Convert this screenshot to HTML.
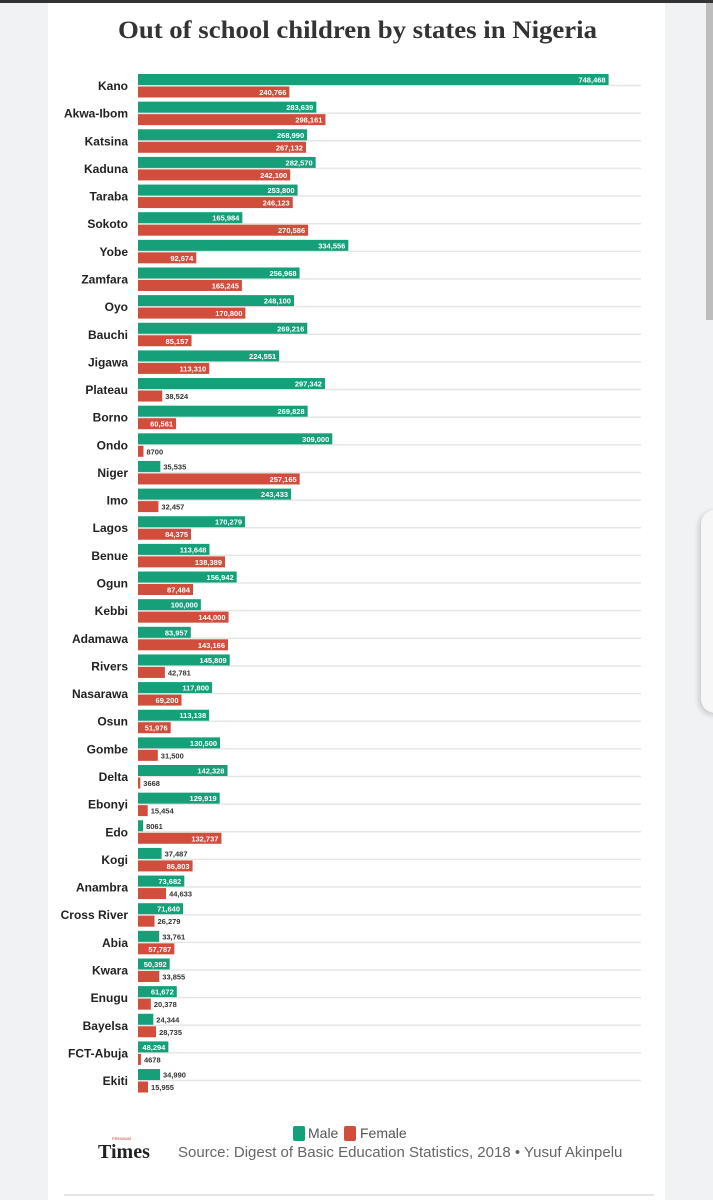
<!DOCTYPE html>
<html><head><meta charset="utf-8">
<style>
html,body{margin:0;padding:0;}
body{width:713px;height:1200px;background:#f1f2f4;position:relative;overflow:hidden;font-family:"Liberation Sans",sans-serif;}
#topbar{position:absolute;left:0;top:0;width:713px;height:3px;background:#333;}
#card{position:absolute;left:48px;top:3px;width:617px;height:1197px;background:#fff;}
#thumb{position:absolute;left:706px;top:3px;width:7px;height:317px;background:#bdbdbd;}
#panel{position:absolute;left:701px;top:510px;width:30px;height:203px;background:#f7f7f8;border-radius:14px;box-shadow:-2px 2px 6px rgba(0,0,0,0.18);}
svg{position:absolute;left:0;top:0;}
</style></head><body>
<div id="topbar"></div>
<div id="card"></div>
<div id="thumb"></div>
<div id="panel"></div>
<svg id="chart" width="713" height="1200">
<text x="118" y="38" textLength="479" lengthAdjust="spacingAndGlyphs" font-family="'Liberation Serif',serif" font-weight="bold" font-size="25" fill="#333">Out of school children by states in Nigeria</text>
<g id="plot"></g>
<g>
<rect x="293" y="1126" width="12" height="15" rx="2" fill="#16a07a"/>
<text x="308" y="1138" font-size="14" fill="#555">Male</text>
<rect x="344" y="1126" width="12" height="15" rx="2" fill="#d14d3c"/>
<text x="360" y="1138" font-size="14" fill="#555">Female</text>
</g>
<text x="98" y="1158" font-family="'Liberation Serif',serif" font-weight="bold" font-size="20" fill="#222">Times</text>
<text x="112" y="1140" font-size="4" fill="#c33">PREMIUM</text>
<text x="178" y="1157" font-size="15" fill="#666">Source: Digest of Basic Education Statistics, 2018 • Yusuf Akinpelu</text>
<line x1="64" y1="1195" x2="654" y2="1195" stroke="#ddd" stroke-width="1.5"/>
</svg>
<script>
const states=["Kano","Akwa-Ibom","Katsina","Kaduna","Taraba","Sokoto","Yobe","Zamfara","Oyo","Bauchi","Jigawa","Plateau","Borno","Ondo","Niger","Imo","Lagos","Benue","Ogun","Kebbi","Adamawa","Rivers","Nasarawa","Osun","Gombe","Delta","Ebonyi","Edo","Kogi","Anambra","Cross River","Abia","Kwara","Enugu","Bayelsa","FCT-Abuja","Ekiti"];
const male=[748468,283639,268990,282570,253800,165984,334556,256968,248100,269216,224551,297342,269828,309000,35535,243433,170279,113648,156942,100000,83957,145809,117800,113138,130500,142328,129919,8061,37487,73682,71640,33761,50392,61672,24344,48294,34990];
const female=[240766,298161,267132,242100,246123,270586,92674,165245,170800,85157,113310,38524,60561,8700,257165,32457,84375,138389,87484,144000,143166,42781,69200,51976,31500,3668,15454,132737,86803,44633,26279,57787,33855,20378,28735,4678,15955];
const noCommas=[8700,3668,8061,4678];
const X0=138,X1=641,MAX=800000,TOP=74,PITCH=27.64,BH=11;
const NS="http://www.w3.org/2000/svg";
const plot=document.getElementById('plot');
function x(v){return X0+(X1-X0)*v/MAX;}
function fmt(v){return noCommas.includes(v)?String(v):v.toLocaleString('en-US');}
function mk(tag,attrs){const e=document.createElementNS(NS,tag);for(const k in attrs)e.setAttribute(k,attrs[k]);return e;}
states.forEach((s,i)=>{
  const y=TOP+i*PITCH;
  const grid=mk('line',{x1:X0,x2:X1,y1:y+BH+0.5,y2:y+BH+0.5,stroke:'#e6e6e6','stroke-width':1.5});
  
  
  plot.appendChild(grid);
  const lab=mk('text',{x:128,y:y+BH+5,'text-anchor':'end','font-size':12,'font-weight':'bold',fill:'#222'});
  lab.textContent=s;
  
  
  plot.appendChild(lab);
  [[male[i],'#16a07a',0,'bar-male'],[female[i],'#d14d3c',BH+1.5,'bar-female']].forEach(([v,c,dy,nm])=>{
    const by=y+dy;
    const w=Math.max(2,x(v)-X0);
    const r=mk('rect',{x:X0,y:by,width:w,height:BH,fill:c});
    
    
    plot.appendChild(r);
    const inside=v>=45000;
    const t=mk('text',{x:inside?X0+w-3:X0+w+3,y:by+8.5,'text-anchor':inside?'end':'start','font-size':7.5,'font-weight':'bold',fill:inside?'#fff':'#333'});
    t.textContent=fmt(v);
    
    
    plot.appendChild(t);
  });
});
</script>
</body></html>
